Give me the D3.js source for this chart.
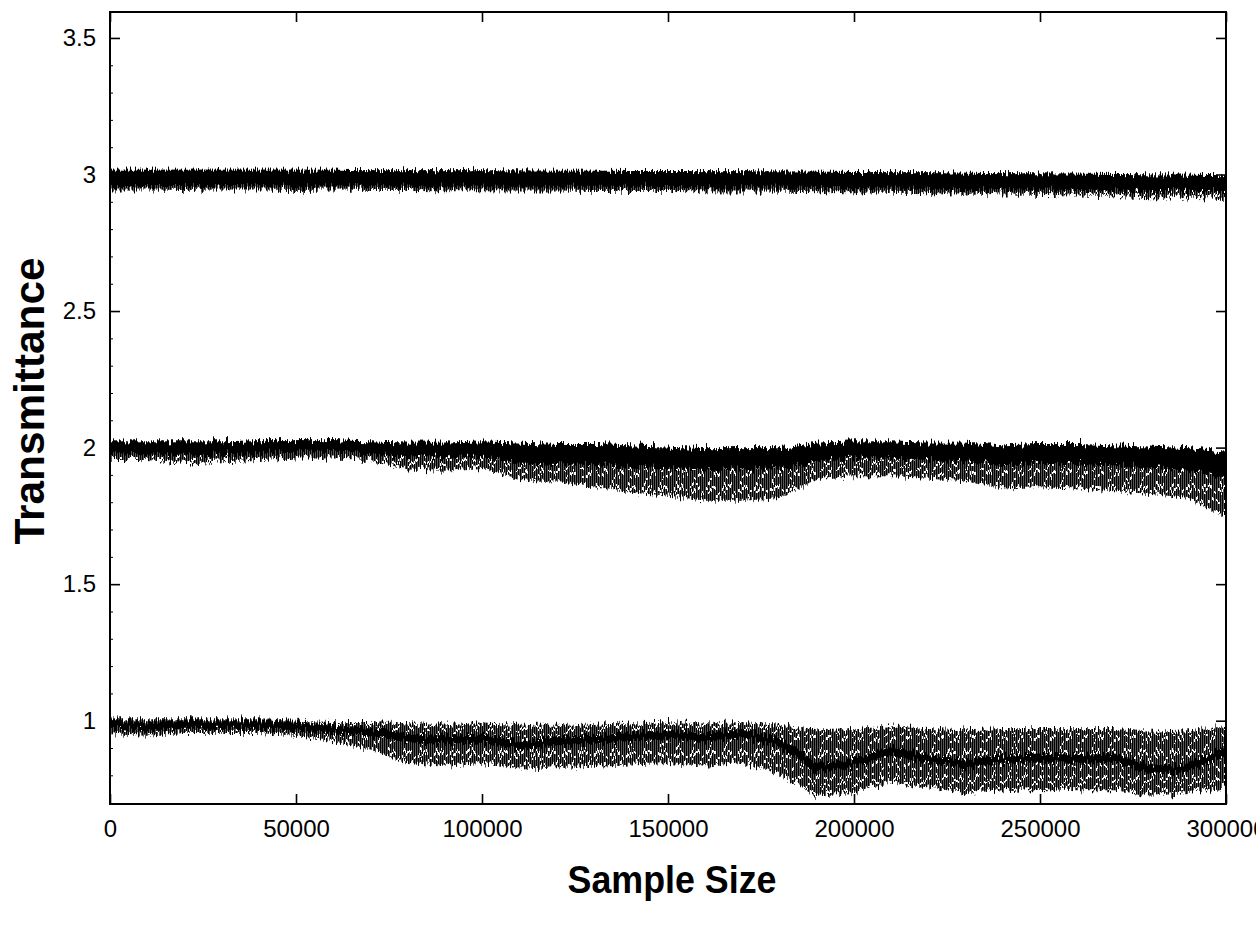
<!DOCTYPE html>
<html>
<head>
<meta charset="utf-8">
<script src="https://cdn.jsdelivr.net/npm/d3@7/dist/d3.min.js"></script>
<style>
    body { margin: 0; background: #fff; }
    svg { display: block; font-family: "Liberation Sans", Arial, Helvetica, sans-serif; }
</style>
</head>
<body>
<div class="drawingArea"></div>
<script>
// sample positions (every 10000)
var samples = [0, 10000, 20000, 30000, 40000, 50000, 60000, 70000, 80000, 90000,
    100000, 110000, 120000, 130000, 140000, 150000, 160000, 170000, 180000, 190000,
    200000, 210000, 220000, 230000, 240000, 250000, 260000, 270000, 280000, 290000, 300000];

// top trace (around 3): upper edge, bottom of solid core, spike tips
var topHi  = [3.017, 3.017, 3.017, 3.017, 3.017, 3.017, 3.017, 3.016, 3.016, 3.016,
    3.016, 3.015, 3.014, 3.014, 3.013, 3.013, 3.012, 3.012, 3.011, 3.01,
    3.009, 3.008, 3.008, 3.006, 3.005, 3.004, 3.003, 3.002, 3.0, 2.999, 2.997];
var topMid = [2.958, 2.958, 2.958, 2.958, 2.957, 2.957, 2.957, 2.957, 2.956, 2.956,
    2.956, 2.955, 2.955, 2.955, 2.955, 2.954, 2.953, 2.953, 2.952, 2.951,
    2.95, 2.949, 2.948, 2.947, 2.946, 2.945, 2.943, 2.942, 2.94, 2.938, 2.936];
var topLo  = [2.945, 2.945, 2.943, 2.945, 2.945, 2.943, 2.945, 2.943, 2.943, 2.942,
    2.942, 2.941, 2.941, 2.94, 2.94, 2.94, 2.939, 2.938, 2.937, 2.935,
    2.935, 2.933, 2.931, 2.93, 2.927, 2.925, 2.923, 2.92, 2.917, 2.915, 2.91];

// middle trace (around 2)
var midHi  = [2.022, 2.022, 2.022, 2.022, 2.027, 2.027, 2.027, 2.022, 2.018, 2.018,
    2.022, 2.018, 2.013, 2.013, 2.008, 2.003, 1.998, 1.998, 1.998, 2.018,
    2.022, 2.022, 2.018, 2.018, 2.008, 2.013, 2.013, 2.008, 2.003, 1.998, 1.985];
var midMid = [1.98, 1.975, 1.97, 1.975, 1.98, 1.985, 1.985, 1.98, 1.965, 1.965,
    1.965, 1.945, 1.94, 1.935, 1.93, 1.925, 1.92, 1.92, 1.92, 1.95,
    1.96, 1.96, 1.955, 1.95, 1.935, 1.94, 1.94, 1.935, 1.925, 1.915, 1.89];
var midLo  = [1.955, 1.955, 1.94, 1.95, 1.955, 1.96, 1.96, 1.955, 1.92, 1.915,
    1.925, 1.885, 1.875, 1.855, 1.835, 1.825, 1.805, 1.805, 1.815, 1.885,
    1.895, 1.895, 1.89, 1.88, 1.85, 1.855, 1.85, 1.84, 1.83, 1.815, 1.745];

// bottom trace (around 1): upper edge, thick centre line, spike tips
var botHi  = [1.005, 1.005, 1.005, 1.005, 1.005, 1.0, 0.995, 0.995, 0.99, 0.99,
    0.99, 0.985, 0.985, 0.985, 0.99, 0.995, 0.99, 0.995, 0.985, 0.965,
    0.97, 0.98, 0.97, 0.965, 0.97, 0.97, 0.97, 0.97, 0.96, 0.965, 0.98];
var botMid = [0.985, 0.98, 0.985, 0.985, 0.985, 0.98, 0.97, 0.96, 0.935, 0.93,
    0.935, 0.91, 0.925, 0.93, 0.94, 0.95, 0.935, 0.955, 0.92, 0.83,
    0.845, 0.89, 0.86, 0.84, 0.86, 0.865, 0.86, 0.865, 0.82, 0.83, 0.89];
var botLo  = [0.95, 0.945, 0.955, 0.955, 0.955, 0.945, 0.925, 0.895, 0.845, 0.835,
    0.845, 0.825, 0.83, 0.835, 0.84, 0.845, 0.835, 0.845, 0.805, 0.725,
    0.735, 0.775, 0.755, 0.735, 0.745, 0.75, 0.745, 0.745, 0.725, 0.735, 0.755];

var xTicks = [0, 50000, 100000, 150000, 200000, 250000, 300000];
var xTickLabels = ["0", "50000", "100000", "150000", "200000", "250000", "300000"];
var yTicks = [1, 1.5, 2, 2.5, 3, 3.5];
var yTickLabels = ["1", "1.5", "2", "2.5", "3", "3.5"];
var yMinorTicks = [0.8, 0.9, 1.1, 1.2, 1.3, 1.4, 1.6, 1.7, 1.8, 1.9, 2.1, 2.2, 2.3, 2.4,
    2.6, 2.7, 2.8, 2.9, 3.1, 3.2, 3.3, 3.4];

//Chart size
var width = 1256;
var height = 926;
var plotLeft = 110, plotRight = 1226, plotTop = 12, plotBottom = 804;

var x = d3.scaleLinear().domain([0, 300000]).range([plotLeft, plotRight]);
var y = d3.scaleLinear().domain([0.695, 3.595]).range([plotBottom, plotTop]);

var drawingArea = d3.select(".drawingArea").append("svg:svg")
    .attr("width", width)
    .attr("height", height);

var defs = drawingArea.append("defs");

// hatching used to fill the noisy bands (vertical streaks, broken at different heights)
var hatchDashes = ["22 2 9 3 17 2", "7 2 25 3 11 2", "15 3 6 2 28 1", "30 2 8 3 9 3",
    "4 2 19 2 13 3 7 2", "12 3 26 2 9 3", "18 2 5 2 22 3", "9 3 14 2 20 2"];
var hatchOffsets = [0, 23, 9, 41, 17, 3, 30, 12];
var hatch = defs.append("pattern")
    .attr("id", "hatch")
    .attr("patternUnits", "userSpaceOnUse")
    .attr("width", 16)
    .attr("height", 53);
hatchDashes.forEach(function(dash, i) {
    hatch.append("line")
        .attr("x1", i * 2 + 0.8).attr("x2", i * 2 + 0.8)
        .attr("y1", 0).attr("y2", 53)
        .attr("stroke", "#050505")
        .attr("stroke-width", 1.7)
        .attr("stroke-dasharray", dash)
        .attr("stroke-dashoffset", hatchOffsets[i]);
});

// ragged, scanned-looking edges: columns shifted up/down only
var rough = defs.append("filter")
    .attr("id", "rough")
    .attr("filterUnits", "userSpaceOnUse")
    .attr("x", plotLeft + 1).attr("y", plotTop)
    .attr("width", plotRight - plotLeft - 2).attr("height", plotBottom - plotTop - 1);
rough.append("feTurbulence")
    .attr("type", "fractalNoise")
    .attr("baseFrequency", "0.6 0.012")
    .attr("numOctaves", 2)
    .attr("seed", 7)
    .attr("result", "noise");
rough.append("feColorMatrix")
    .attr("in", "noise")
    .attr("type", "matrix")
    .attr("values", "0 0 0 0 0.5  0 1 0 0 0  0 0 1 0 0  0 0 0 0 1")
    .attr("result", "vnoise");
rough.append("feDisplacementMap")
    .attr("in", "SourceGraphic")
    .attr("in2", "vnoise")
    .attr("scale", 14)
    .attr("xChannelSelector", "R")
    .attr("yChannelSelector", "G");

var plot = drawingArea.append("g")
    .attr("id", "traces")
    .attr("filter", "url(#rough)");

function band(hi, lo) {
    return d3.area()
        .x(function(d, i) { return x(samples[i]); })
        .y0(function(d, i) { return y(lo[i]); })
        .y1(function(d, i) { return y(hi[i]); })(samples);
}

function trace(vals) {
    return d3.line()
        .x(function(d, i) { return x(samples[i]); })
        .y(function(d, i) { return y(vals[i]); })(samples);
}

// top trace
plot.append("path").attr("d", band(topHi, topLo)).attr("fill", "url(#hatch)");
plot.append("path").attr("d", band(topHi, topMid)).attr("fill", "#030303");

// middle trace
plot.append("path").attr("d", band(midHi, midLo)).attr("fill", "url(#hatch)");
plot.append("path").attr("d", band(midHi, midMid)).attr("fill", "#030303");

// bottom trace
plot.append("path").attr("d", band(botHi, botLo)).attr("fill", "url(#hatch)");
plot.append("path").attr("d", trace(botMid))
    .attr("fill", "none")
    .attr("stroke", "#000")
    .attr("stroke-width", 8)
    .attr("stroke-linejoin", "round");

// axes (ticks point inwards, mirrored on top/right)
drawingArea.append("g")
    .attr("transform", "translate(0," + plotBottom + ")")
    .call(d3.axisBottom(x).tickValues(xTicks)
        .tickFormat(function(d, i) { return xTickLabels[i]; })
        .tickSizeInner(-10).tickSizeOuter(0).tickPadding(16));

drawingArea.append("g")
    .attr("transform", "translate(0," + plotTop + ")")
    .call(d3.axisTop(x).tickValues(xTicks).tickFormat("")
        .tickSizeInner(-10).tickSizeOuter(0));

drawingArea.append("g")
    .attr("transform", "translate(" + plotLeft + ",0)")
    .call(d3.axisLeft(y).tickValues(yTicks)
        .tickFormat(function(d, i) { return yTickLabels[i]; })
        .tickSizeInner(-10).tickSizeOuter(0).tickPadding(14));

drawingArea.append("g")
    .attr("class", "minor")
    .attr("transform", "translate(" + plotLeft + ",0)")
    .call(d3.axisLeft(y).tickValues(yMinorTicks).tickFormat("")
        .tickSizeInner(-3).tickSizeOuter(0));

drawingArea.append("g")
    .attr("transform", "translate(" + plotRight + ",0)")
    .call(d3.axisRight(y).tickValues(yTicks).tickFormat("")
        .tickSizeInner(-10).tickSizeOuter(0));

drawingArea.selectAll(".domain").remove();
drawingArea.selectAll(".tick line").attr("stroke", "#000").attr("stroke-width", 1.6);
drawingArea.selectAll(".minor .tick line").attr("stroke-width", 1);
drawingArea.selectAll(".tick text")
    .attr("fill", "#000")
    .style("font-size", "24px")
    .style("font-family", "\"Liberation Sans\", Arial, sans-serif");

// frame
drawingArea.append("rect")
    .attr("x", plotLeft)
    .attr("y", plotTop)
    .attr("width", plotRight - plotLeft)
    .attr("height", plotBottom - plotTop)
    .attr("fill", "none")
    .attr("stroke", "#000")
    .attr("stroke-width", 2);

// axis titles
drawingArea.append("text")
    .attr("x", 672)
    .attr("y", 893)
    .attr("text-anchor", "middle")
    .attr("textLength", 209)
    .attr("lengthAdjust", "spacingAndGlyphs")
    .style("font-size", "39px")
    .style("font-weight", "bold")
    .text("Sample Size");

drawingArea.append("text")
    .attr("transform", "translate(44,401) rotate(-90)")
    .attr("text-anchor", "middle")
    .attr("textLength", 287)
    .attr("lengthAdjust", "spacingAndGlyphs")
    .style("font-size", "42px")
    .style("font-weight", "bold")
    .text("Transmittance");
</script>
</body>
</html>
